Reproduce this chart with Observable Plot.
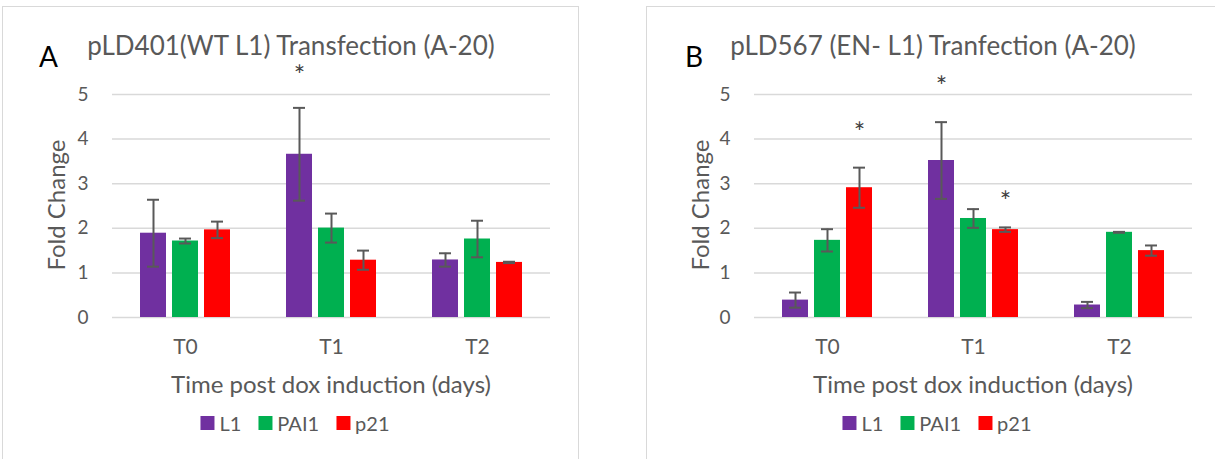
<!DOCTYPE html>
<html><head><meta charset="utf-8">
<script src="https://cdn.jsdelivr.net/npm/d3@7"></script>
<script src="https://cdn.jsdelivr.net/npm/@observablehq/plot@0.6"></script>
<style>
body{margin:0;background:#fff;font-family:Lato, sans-serif;}
#root{position:relative;width:1215px;height:459px;overflow:hidden;background:#fff;}
.panel{position:absolute;border:1.5px solid #d9d9d9;box-sizing:border-box;}
.abs{position:absolute;white-space:nowrap;color:#595959;font-family:Lato, sans-serif;}
.plotbox{position:absolute;}
.legend{position:absolute;display:flex;align-items:center;transform:translateX(-50%);font-size:20px;line-height:20px;color:#595959;white-space:nowrap;}
.legend .item{display:flex;align-items:center;margin-right:17px;}
.legend .item:last-child{margin-right:0;}
.legend .sw{width:14px;height:14px;margin-right:5px;}
.ylab{position:absolute;white-space:nowrap;color:#595959;font-size:24px;line-height:24px;transform:translate(-50%,-50%) rotate(-90deg);}
</style></head><body><div id="root"></div>
<script>
// ---- data ----
const times = ["T0", "T1", "T2"];
const series = ["L1", "PAI1", "p21"];
const colors = ["#7030A0", "#00B050", "#FF0000"];
const yTicks = [0, 1, 2, 3, 4, 5];

const titleA = "pLD401(WT L1) Transfection (A-20)";
const titleB = "pLD567 (EN- L1) Tranfection (A-20)";
const yLabel = "Fold Change";
const xLabel = "Time post dox induction (days)";

// Panel A: means and error (+/-) per time point
const meanA_L1   = [1.89, 3.66, 1.29];
const meanA_PAI1 = [1.715, 2.005, 1.76];
const meanA_p21  = [1.965, 1.285, 1.235];
const errA_L1    = [0.75, 1.04, 0.15];
const errA_PAI1  = [0.055, 0.325, 0.41];
const errA_p21   = [0.185, 0.215, 0.015];

// Panel B
const meanB_L1   = [0.39, 3.52, 0.28];
const meanB_PAI1 = [1.73, 2.22, 1.91];
const meanB_p21  = [2.91, 1.97, 1.50];
const errB_L1    = [0.17, 0.86, 0.07];
const errB_PAI1  = [0.25, 0.21, 0.01];
const errB_p21   = [0.45, 0.05, 0.115];

// significance markers (time, series, vertical position in y units)
const starsA_time = ["T1"], starsA_series = ["L1"], starsA_y = [5.40];
const starsB_time = ["T0", "T1", "T1"], starsB_series = ["p21", "L1", "p21"], starsB_y = [4.13, 5.17, 2.58];

// ---- build rows ----
function rows(means, errs) {
  const out = [];
  times.forEach((t, i) => series.forEach((s, j) => out.push({time: t, series: s, value: means[j][i], err: errs[j][i]})));
  return out;
}
const rowsA = rows([meanA_L1, meanA_PAI1, meanA_p21], [errA_L1, errA_PAI1, errA_p21]);
const rowsB = rows([meanB_L1, meanB_PAI1, meanB_p21], [errB_L1, errB_PAI1, errB_p21]);
const starRows = (ts, ss, ys) => ts.map((t, i) => ({time: t, series: ss[i], y: ys[i]}));
const starsA = starRows(starsA_time, starsA_series, starsA_y);
const starsB = starRows(starsB_time, starsB_series, starsB_y);

function chart(data, stars, width, ml, mr) {
  const svg = Plot.plot({
    width, height: 300, marginTop: 34, marginBottom: 43, marginLeft: ml, marginRight: mr,
    style: {fontFamily: "Lato, sans-serif", fontSize: "19px", color: "#595959", background: "transparent", overflow: "visible"},
    fx: {domain: times, padding: 0, label: null, axis: "bottom", tickSize: 0, tickPadding: 22},
    x: {domain: series, paddingInner: 0.2, paddingOuter: 0.88, axis: null},
    y: {domain: [0, 5], ticks: yTicks, tickSize: 0, tickPadding: 24, tickFormat: d => String(d), label: null},
    color: {domain: series, range: colors},
    marks: [
      Plot.ruleY(yTicks, {stroke: "#d9d9d9", strokeWidth: 1.5}),
      Plot.barY(data, {fx: "time", x: "series", y: "value", fill: "series"}),
      Plot.ruleX(data, {fx: "time", x: "series", y1: d => d.value - d.err, y2: d => d.value + d.err, stroke: "#595959", strokeWidth: 2}),
      Plot.tickY(data, {fx: "time", x: "series", y: d => d.value - d.err, stroke: "#595959", strokeWidth: 2, insetLeft: 7, insetRight: 7}),
      Plot.tickY(data, {fx: "time", x: "series", y: d => d.value + d.err, stroke: "#595959", strokeWidth: 2, insetLeft: 7, insetRight: 7}),
      Plot.text(stars, {fx: "time", x: "series", y: "y", text: () => "*", fontSize: 27, fill: "#404040"})
    ]
  });
  // enlarge axis tick labels (Excel-like sizes)
  svg.querySelectorAll("text").forEach(t => {
    const s = t.textContent.trim();
    if (/^\d$/.test(s)) { t.style.setProperty("font-size", "19px", "important"); t.style.setProperty("fill", "#595959", "important"); }
    else if (/^T\d$/.test(s)) { t.style.setProperty("font-size", "21px", "important"); t.style.setProperty("fill", "#595959", "important"); }
  });
  return svg;
}

const root = document.getElementById("root");
function el(cls, style, html) {
  const d = document.createElement("div");
  d.className = cls;
  Object.assign(d.style, style);
  if (html != null) d.textContent = html;
  root.appendChild(d);
  return d;
}
function legend(cx, top) {
  const lg = el("legend", {left: cx + "px", top: top + "px"});
  series.forEach((s, i) => {
    const it = document.createElement("div"); it.className = "item";
    const sw = document.createElement("div"); sw.className = "sw"; sw.style.background = colors[i];
    const tx = document.createElement("span"); tx.textContent = s;
    it.appendChild(sw); it.appendChild(tx); lg.appendChild(it);
  });
}

// Panel A
el("panel", {left: "2px", top: "6px", width: "577px", height: "470px"});
el("abs", {left: "39px", top: "42px", fontSize: "28px", lineHeight: "28px", color: "#000"}, "A");
el("abs", {left: "291px", top: "32px", fontSize: "26px", lineHeight: "26px", transform: "translateX(-50%)"}, titleA);
const boxA = el("plotbox", {left: "0px", top: "60px"});
boxA.appendChild(chart(rowsA, starsA, 578, 111, 28));
el("ylab", {left: "56px", top: "205px"}, yLabel);
el("abs", {left: "331px", top: "372px", fontSize: "24px", lineHeight: "24px", transform: "translateX(-50%)"}, xLabel);
legend(295, 413);

// Panel B
el("panel", {left: "646px", top: "6px", width: "620px", height: "470px"});
el("abs", {left: "685px", top: "42px", fontSize: "28px", lineHeight: "28px", color: "#000"}, "B");
el("abs", {left: "933px", top: "32px", fontSize: "26px", lineHeight: "26px", transform: "translateX(-50%)"}, titleB);
const boxB = el("plotbox", {left: "646px", top: "60px"});
boxB.appendChild(chart(rowsB, starsB, 569, 108, 23));
el("ylab", {left: "700px", top: "205px"}, yLabel);
el("abs", {left: "973px", top: "372px", fontSize: "24px", lineHeight: "24px", transform: "translateX(-50%)"}, xLabel);
legend(937, 413);
</script></body></html>
